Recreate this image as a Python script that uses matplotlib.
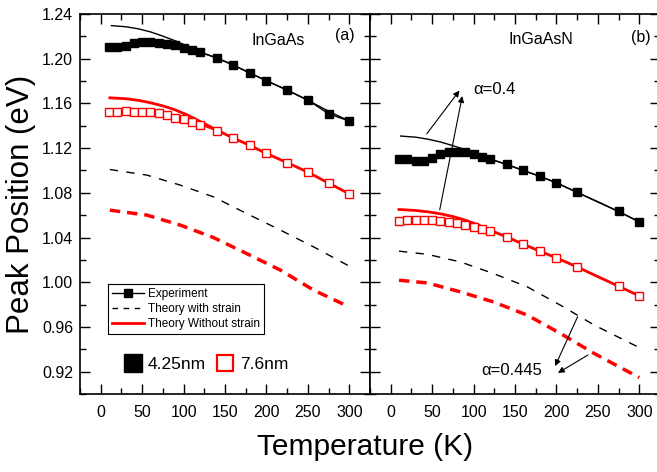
import matplotlib
matplotlib.use("Agg")
import matplotlib.pyplot as plt
from matplotlib.lines import Line2D
from matplotlib.ticker import MultipleLocator, FormatStrFormatter

plt.rcParams['font.family'] = ['Liberation Sans', 'DejaVu Sans']

# ---- InGaAs (a) ----
t_a = [10, 20, 30, 40, 50, 60, 70, 80, 90, 100, 110, 120, 140, 160, 180, 200, 225, 250, 275, 300]
exp_a_425 = [1.2101, 1.2107, 1.2113, 1.2143, 1.2152, 1.2152, 1.2143, 1.2134, 1.2122, 1.2099,
             1.2078, 1.2057, 1.2009, 1.1943, 1.1872, 1.1803, 1.1720, 1.1630, 1.1507, 1.1442]
exp_a_76 = [1.1520, 1.1522, 1.1531, 1.1525, 1.1522, 1.1522, 1.1517, 1.1496, 1.1472, 1.1460,
            1.1433, 1.1410, 1.1355, 1.1290, 1.1224, 1.1152, 1.1070, 1.0988, 1.0887, 1.0791]

t_th_a = [13, 30, 45, 60, 75, 90, 105, 120, 140, 160, 180, 200, 225, 250, 275, 300]
nostrain_a_425 = [1.2296, 1.2286, 1.2268, 1.2240, 1.2202, 1.2160, 1.2112, 1.2060, 1.2005, 1.1943,
                  1.1872, 1.1803, 1.1718, 1.1628, 1.1530, 1.1442]
t_th_a2 = [11, 30, 45, 60, 75, 90, 105, 120, 140, 160, 180, 200, 225, 250, 275, 300]
nostrain_a_76 = [1.1650, 1.1642, 1.1628, 1.1606, 1.1578, 1.1542, 1.1495, 1.1438, 1.1362, 1.1290,
                 1.1224, 1.1152, 1.1070, 1.0985, 1.0887, 1.0791]

t_st_a = [11, 56, 96, 136, 176, 217, 257, 300]
strain_a_425 = [1.1009, 1.0958, 1.0869, 1.0764, 1.0615, 1.0466, 1.0316, 1.0144]
strain_a_76 = [1.0645, 1.0600, 1.0511, 1.0400, 1.0257, 1.0108, 0.9929, 0.9779]

# ---- InGaAsN (b) ----
t_b = [10, 20, 30, 40, 50, 60, 70, 80, 90, 100, 110, 120, 140, 160, 180, 200, 225, 275, 300]
exp_b_425 = [1.1105, 1.1105, 1.1087, 1.1087, 1.1115, 1.1146, 1.1165, 1.1168, 1.1165, 1.1150,
             1.1125, 1.1102, 1.1054, 1.1000, 1.0949, 1.0889, 1.0803, 1.0633, 1.0540]
exp_b_76 = [1.0546, 1.0555, 1.0555, 1.0558, 1.0555, 1.0549, 1.0540, 1.0526, 1.0511, 1.0495,
            1.0478, 1.0460, 1.0406, 1.0340, 1.0278, 1.0218, 1.0137, 0.9964, 0.9878]

t_th_b = [12, 30, 45, 60, 75, 90, 105, 120, 140, 160, 180, 200, 225, 250, 275, 300]
nostrain_b_425 = [1.1308, 1.1298, 1.1280, 1.1255, 1.1222, 1.1186, 1.1145, 1.1102, 1.1054, 1.1000,
                  1.0947, 1.0890, 1.0805, 1.0720, 1.0633, 1.0540]
t_th_b2 = [10, 30, 45, 60, 75, 90, 105, 120, 140, 160, 180, 200, 225, 250, 275, 300]
nostrain_b_76 = [1.0651, 1.0642, 1.0630, 1.0612, 1.0588, 1.0556, 1.0515, 1.0465, 1.0406, 1.0340,
                 1.0278, 1.0218, 1.0137, 1.0050, 0.9964, 0.9878]

t_st_b = [10, 44, 84, 124, 165, 205, 246, 300]
strain_b_425 = [1.0278, 1.0250, 1.0182, 1.0078, 0.9958, 0.9794, 0.9615, 0.9415]
strain_b_76 = [1.0018, 0.9994, 0.9914, 0.9824, 0.9705, 0.9541, 0.9361, 0.9147]

W, H = 657, 472
fig = plt.figure(figsize=(W / 100, H / 100), dpi=100)
ax1 = fig.add_axes([80 / W, 78 / H, 290 / W, 380 / H])
ax2 = fig.add_axes([370 / W, 78 / H, 290 / W, 380 / H])


def style(ax, labels=True):
    ax.set_xlim(-25, 325)
    ax.set_ylim(0.90, 1.24)
    ax.set_xticks(range(0, 301, 50))
    ax.xaxis.set_minor_locator(MultipleLocator(25))
    ax.yaxis.set_major_locator(MultipleLocator(0.04))
    ax.yaxis.set_minor_locator(MultipleLocator(0.02))
    ax.yaxis.set_major_formatter(FormatStrFormatter('%.2f'))
    ax.tick_params(which='both', direction='in', top=True, right=True, width=1)
    ax.tick_params(which='major', length=7, labelsize=11.5)
    ax.tick_params(which='minor', length=4)
    ax.tick_params(axis='x', pad=8)
    ax.tick_params(axis='y', pad=5, labelleft=labels)
    for s in ax.spines.values():
        s.set_linewidth(1.2)


def draw(ax, t, e1, e2, tt1, n1, tt2, n2, ts, s1, s2):
    ax.plot(ts, s1, color='k', lw=1, dashes=(6, 6))
    ax.plot(ts, s2, color='red', lw=2.5, dashes=(3, 2))
    ax.plot(tt1, n1, color='k', lw=1)
    ax.plot(tt2, n2, color='red', lw=2)
    ax.plot(t, e1, color='k', lw=1, marker='s', ms=6, mfc='k', mec='k')
    ax.plot(t, e2, color='red', lw=1, marker='s', ms=5.5, mfc='white', mec='red', mew=1)


style(ax1)
style(ax2, labels=False)
draw(ax1, t_a, exp_a_425, exp_a_76, t_th_a, nostrain_a_425, t_th_a2, nostrain_a_76,
     t_st_a, strain_a_425, strain_a_76)
draw(ax2, t_b, exp_b_425, exp_b_76, t_th_b, nostrain_b_425, t_th_b2, nostrain_b_76,
     t_st_b, strain_b_425, strain_b_76)

ax1.text(214, 1.2167, 'InGaAs', fontsize=11.5, ha='center', va='center')
ax1.text(295, 1.2212, '(a)', fontsize=11.5, ha='center', va='center')
ax2.text(181, 1.2176, 'InGaAsN', fontsize=11.5, ha='center', va='center')
ax2.text(302, 1.2194, '(b)', fontsize=11.5, ha='center', va='center')

arr = dict(arrowstyle='-|>', color='k', lw=0.8, mutation_scale=9)
ax2.annotate('', xy=(85, 1.1735), xytext=(41.5, 1.1308), arrowprops=arr)
ax2.annotate('', xy=(87, 1.1690), xytext=(58.5, 1.0624), arrowprops=arr)
ax2.text(100, 1.1728, 'α=0.4', fontsize=12, ha='left', va='center')
ax2.annotate('', xy=(197, 0.9227), xytext=(227, 0.9714), arrowprops=arr)
ax2.annotate('', xy=(199, 0.9176), xytext=(241, 0.9362), arrowprops=arr)
ax2.text(109, 0.9206, 'α=0.445', fontsize=12, ha='left', va='center')

h1 = [Line2D([], [], color='k', lw=1, marker='s', ms=5.5, mfc='k'),
      Line2D([], [], color='k', lw=1, dashes=(4, 4)),
      Line2D([], [], color='red', lw=2)]
leg = ax1.legend(h1, ['Experiment', 'Theory with strain', 'Theory Without strain'],
                 loc='upper left', bbox_to_anchor=(0.0976, 0.2895), borderaxespad=0,
                 fontsize=8.5, handlelength=2.7, handletextpad=0.3, labelspacing=0.25,
                 borderpad=0.35, fancybox=False, edgecolor='k', framealpha=1)
leg.get_frame().set_linewidth(0.8)
ax1.add_artist(leg)

h2 = [Line2D([], [], ls='none', marker='s', ms=13, mfc='k', mec='k'),
      Line2D([], [], ls='none', marker='s', ms=12, mfc='white', mec='red', mew=1.6)]
ax1.legend(h2, ['4.25nm', '7.6nm'], loc='center left', bbox_to_anchor=(0.154, 0.0776),
           borderaxespad=0, borderpad=0, frameon=False, ncol=2, fontsize=12.5,
           handlelength=1.0, handletextpad=0.35, columnspacing=0.6)

fig.text(21 / W, 1 - 204 / H, 'Peak Position (eV)', rotation=90, fontsize=22.5,
         ha='center', va='center')
fig.text(365 / W, 1 - 447 / H, 'Temperature (K)', fontsize=21.5, ha='center', va='center')

fig.savefig('out.png', dpi=100)
